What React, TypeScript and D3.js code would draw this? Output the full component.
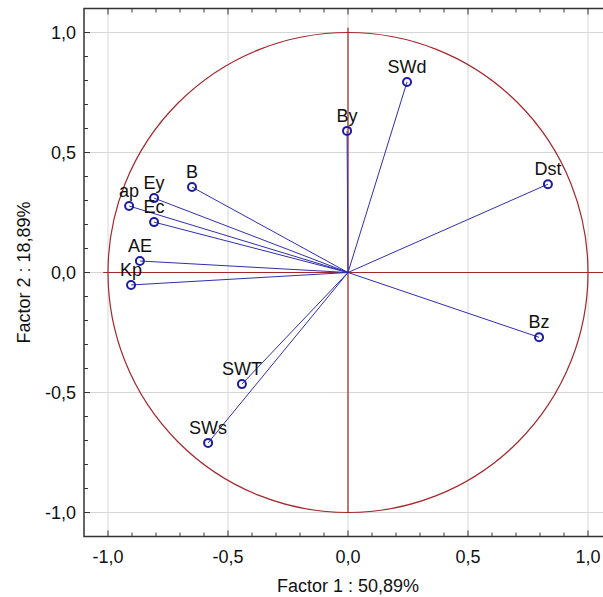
import React from 'react';
import * as d3 from 'd3';

// variable loadings on the first two factors
const variables = ['SWd', 'By', 'Dst', 'Bz', 'B', 'Ey', 'ap', 'Ec', 'AE', 'Kp', 'SWT', 'SWs'];
const factor1 = [0.246, -0.004, 0.833, 0.796, -0.65, -0.808, -0.912, -0.808, -0.867, -0.904, -0.442, -0.583];
const factor2 = [0.794, 0.59, 0.368, -0.27, 0.356, 0.31, 0.277, 0.21, 0.048, -0.052, -0.465, -0.71];

const majorTicks = [-1, -0.5, 0, 0.5, 1];
const tickLabels = ['-1,0', '-0,5', '0,0', '0,5', '1,0'];
const xTitle = 'Factor 1 : 50,89%';
const yTitle = 'Factor 2 : 18,89%';

const width = 603;
const height = 597;
const font = '"Liberation Sans", Arial, sans-serif';
const fs = 18;

const App = () => {
  const x = d3.scaleLinear().domain([-1.1, 1.1]).range([84, 612]);
  const y = d3.scaleLinear().domain([-1.1, 1.1]).range([536.5, 8.5]);
  const minorTicks = d3.range(-10, 11).map((d) => d / 10);

  const left = x(-1.1);
  const right = x(1.1);
  const top = y(1.1);
  const bottom = y(-1.1);
  const r = x(1) - x(0);

  const blue = '#2f2fae';
  const red = '#a3282c';
  const grid = '#d6d6d6';

  return (
    <div style={{ position: 'absolute', left: 0, top: 0 }}>
      <svg width={width} height={height} style={{ display: 'block', background: '#fff' }}>
        {/* gridlines */}
        {majorTicks.map((t) => (
          <g key={'g' + t}>
            <line x1={x(t)} x2={x(t)} y1={top} y2={bottom} stroke={grid} strokeWidth={1} />
            <line x1={left} x2={right} y1={y(t)} y2={y(t)} stroke={grid} strokeWidth={1} />
          </g>
        ))}

        {/* unit circle and origin cross */}
        <circle cx={x(0)} cy={y(0)} r={r} fill="none" stroke={red} strokeWidth={1.2} />
        <line x1={x(-1.02)} x2={right} y1={y(0)} y2={y(0)} stroke={red} strokeWidth={1.2} />
        <line x1={x(0)} x2={x(0)} y1={y(1.02)} y2={y(-1.0)} stroke={red} strokeWidth={1.2} />

        {/* loading vectors */}
        {variables.map((v, i) => (
          <line
            key={'l' + v}
            x1={x(0)}
            y1={y(0)}
            x2={x(factor1[i])}
            y2={y(factor2[i])}
            stroke={blue}
            strokeWidth={1}
          />
        ))}
        {variables.map((v, i) => (
          <circle
            key={'c' + v}
            cx={x(factor1[i])}
            cy={y(factor2[i])}
            r={4}
            fill="none"
            stroke="#1c1ca3"
            strokeWidth={2}
          />
        ))}
        {variables.map((v, i) => (
          <text
            key={'t' + v}
            x={x(factor1[i])}
            y={y(factor2[i]) - 9}
            textAnchor="middle"
            fontFamily={font}
            fontSize={fs}
            fill="#111"
          >
            {v}
          </text>
        ))}

        {/* frame */}
        <rect x={left} y={top} width={right - left} height={bottom - top} fill="none" stroke="#333" strokeWidth={1.5} />

        {/* ticks */}
        {minorTicks.map((t) => {
          const len = Math.abs(Math.round(t * 10) % 5) === 0 ? 6 : 4;
          return (
            <g key={'k' + t} stroke="#333" strokeWidth={1}>
              <line x1={x(t)} x2={x(t)} y1={bottom} y2={bottom - len} />
              <line x1={x(t)} x2={x(t)} y1={top} y2={top + len} />
              <line x1={left} x2={left + len} y1={y(t)} y2={y(t)} />
              <line x1={right} x2={right - len} y1={y(t)} y2={y(t)} />
            </g>
          );
        })}

        {/* tick labels */}
        {majorTicks.map((t, i) => (
          <g key={'tl' + t} fontFamily={font} fontSize={fs} fill="#111">
            <text x={x(t)} y={563} textAnchor="middle">
              {tickLabels[i]}
            </text>
            <text x={76} y={y(t) + 6} textAnchor="end">
              {tickLabels[i]}
            </text>
          </g>
        ))}

        {/* axis titles */}
        <text x={x(0)} y={592} textAnchor="middle" fontFamily={font} fontSize={fs} fill="#111">
          {xTitle}
        </text>
        <text
          transform={`translate(30, ${y(0)}) rotate(-90)`}
          textAnchor="middle"
          fontFamily={font}
          fontSize={fs}
          fill="#111"
        >
          {yTitle}
        </text>
      </svg>
    </div>
  );
};

export default App;
